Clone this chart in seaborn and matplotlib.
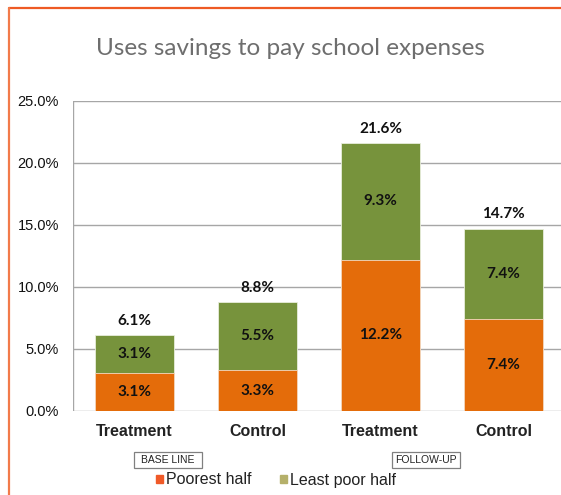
import numpy as np
import pandas as pd
import matplotlib
matplotlib.use("Agg")
import matplotlib.pyplot as plt
from matplotlib.patches import Patch, Rectangle
from matplotlib.lines import Line2D
import seaborn as sns

# values (percent)
groups = ["BL Treatment", "BL Control", "FU Treatment", "FU Control"]
group_labels = ["Treatment", "Control", "Treatment", "Control"]
poorest = [3.1, 3.3, 12.2, 7.4]
least_poor = [3.1, 5.5, 9.3, 7.4]
totals = [6.1, 8.8, 21.6, 14.7]
yticks = [0, 5, 10, 15, 20, 25]
periods = ["BASE LINE", "FOLLOW-UP"]

df = pd.DataFrame({"group": groups, "poorest": poorest,
                   "least_poor": least_poor, "total": totals})

orange = "#E46C0A"
green = "#77933C"
grid_col = "#A6A6A6"

sns.set_style("white")
plt.rcParams["font.family"] = ["Liberation Sans", "DejaVu Sans"]

W, H = 561, 495
fig = plt.figure(figsize=(W / 100, H / 100), dpi=100)
# plot area runs past the right edge of the picture (it is cut off there)
ax = fig.add_axes([73 / W, 1 - 411 / H, 547 / W, 310 / H])

# stacked bars: full height in green, bottom part in orange
sns.barplot(data=df, x="group", y="total", order=groups, color=green,
            width=0.642, saturation=1, edgecolor="#E8EEDC", linewidth=0.6, ax=ax)
sns.barplot(data=df, x="group", y="poorest", order=groups, color=orange,
            width=0.642, saturation=1, edgecolor="#F6D9C2", linewidth=0.6, ax=ax)

ax.set_xlim(-0.5, -0.5 + 547 / 123)
ax.set_ylim(0, 25)
ax.set_yticks(yticks)
ax.set_yticklabels([f"{t:.1f}%" for t in yticks], fontsize=10.5, color="#111111")
ax.set_xticks(range(len(groups)))
ax.set_xticklabels(group_labels, fontsize=11.5, fontweight="bold", color="#222222")
ax.tick_params(axis="y", length=0, pad=10)
ax.tick_params(axis="x", length=0, pad=9)
ax.set_xlabel("")
ax.set_ylabel("")
ax.yaxis.grid(True, color=grid_col, linewidth=1)
ax.xaxis.grid(False)
ax.set_axisbelow(True)
# no frame: only the left axis line, the bottom is the 0% gridline
ax.set_frame_on(False)
ax.axvline(-0.5, color=grid_col, linewidth=1, zorder=0.5)

# data labels
lab_font = dict(family=["Lato", "DejaVu Sans"], fontweight="bold", fontsize=11,
                color="#111111", ha="center", va="center")
for i in range(len(groups)):
    ax.text(i, poorest[i] / 2, f"{poorest[i]:.1f}%", **lab_font)
    ax.text(i, poorest[i] + (totals[i] - poorest[i]) / 2, f"{least_poor[i]:.1f}%", **lab_font)
    ax.text(i, totals[i] + 1.15, f"{totals[i]:.1f}%", **lab_font)

fig.text(0.517, 0.903, "Uses savings to pay school expenses", ha="center", va="center",
         fontsize=17.5, color="#6E6E6E", family=["Lato", "DejaVu Sans"])

# period boxes under the categories
for name, x0 in zip(periods, [134, 392]):
    fig.add_artist(Rectangle((x0 / W, 1 - 468 / H), 68 / W, 16 / H, fc="white",
                             ec="#808080", lw=0.9, transform=fig.transFigure))
    fig.text((x0 + 34) / W, 1 - 460 / H, name, ha="center", va="center",
             fontsize=7.5, color="#222222")

handles = [Patch(color="#F05A28", label="Poorest half"),
           Patch(color="#B5B06A", label="Least poor half")]
fig.legend(handles=handles, loc="center", bbox_to_anchor=(276 / W, 1 - 480 / H),
           ncol=2, frameon=False, fontsize=11.5, handlelength=0.45, handleheight=0.45,
           handletextpad=0.15, columnspacing=1.8, labelcolor="#222222")

# orange frame of the slide
fig.add_artist(Line2D([9 / W, 1.0], [1 - 8 / H, 1 - 8 / H], color="#EE5A24",
                      lw=1.6, transform=fig.transFigure))
fig.add_artist(Line2D([9 / W, 9 / W], [0, 1 - 8 / H], color="#F27A4A",
                      lw=1.6, transform=fig.transFigure))

fig.savefig("out.png", dpi=100)
